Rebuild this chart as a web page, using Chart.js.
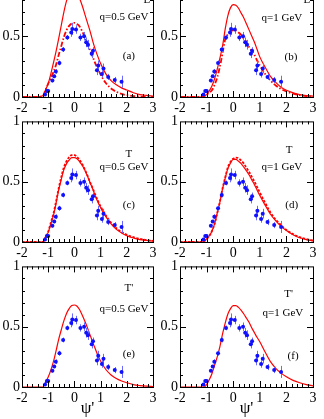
<!DOCTYPE html>
<html>
<head>
<meta charset="utf-8">
<script src="https://cdn.jsdelivr.net/npm/chart.js@4.4.1/dist/chart.umd.min.js"></script>
<style>
	html, body { margin: 0; padding: 0; background: #fff; overflow: hidden; }
	body { width: 324px; height: 419px; position: relative; }
	canvas { position: absolute; }
</style>
</head>
<body>
<canvas id="pa"></canvas>
<canvas id="pb"></canvas>
<canvas id="pc"></canvas>
<canvas id="pd"></canvas>
<canvas id="pe"></canvas>
<canvas id="pf"></canvas>
<script>
// tick labels
var X_TICKS = [-2, -1, 0, 1, 2, 3];
var Y_TICKS = [0, 0.5, 1];

// experimental scaling data (same in every panel)
var dataPsi = [-1.12, -1.05, -1.0, -0.84, -0.77, -0.71, -0.57, -0.43, -0.27, -0.12, -0.08, 0.06, 0.23, 0.37, 0.45, 0.52, 0.66, 0.71, 0.86, 0.91, 1.05, 1.11, 1.29, 1.54, 1.80];
var dataF = [0.02, 0.05, 0.05, 0.135, 0.17, 0.21, 0.28, 0.39, 0.49, 0.53, 0.56, 0.555, 0.49, 0.50, 0.45, 0.43, 0.355, 0.38, 0.22, 0.26, 0.19, 0.235, 0.165, 0.14, 0.125];
var dataErr = [0.01, 0.01, 0.01, 0.015, 0.015, 0.02, 0.02, 0.02, 0.02, 0.035, 0.05, 0.035, 0.03, 0.035, 0.04, 0.04, 0.035, 0.03, 0.04, 0.04, 0.03, 0.04, 0.025, 0.025, 0.05];

// psi' grid for the model curves
var curvePsi = [-2, -1.5, -1.2, -1.1, -1.0, -0.9, -0.8, -0.7, -0.6, -0.5, -0.4, -0.3, -0.2, -0.1, 0, 0.1, 0.2, 0.3, 0.4, 0.5, 0.6, 0.7, 0.8, 0.9, 1.0, 1.2, 1.4, 1.6, 1.8, 2.0, 2.25, 2.5, 2.75, 3.0];

var fL05 = [0, 0, 0.01, 0.06, 0.11, 0.19, 0.28, 0.375, 0.48, 0.59, 0.70, 0.79, 0.85, 0.88, 0.885, 0.86, 0.81, 0.75, 0.68, 0.61, 0.54, 0.46, 0.39, 0.33, 0.275, 0.19, 0.135, 0.10, 0.075, 0.057, 0.035, 0.02, 0.013, 0.008];
var fL05b = [0, 0, 0.01, 0.06, 0.11, 0.155, 0.205, 0.265, 0.345, 0.42, 0.495, 0.55, 0.585, 0.605, 0.61, 0.60, 0.58, 0.54, 0.49, 0.435, 0.385, 0.33, 0.275, 0.23, 0.185, 0.115, 0.07, 0.043, 0.025, 0.015, 0.008, 0.004, 0.002, 0];
var fL1 = [0, 0, 0, 0.005, 0.02, 0.05, 0.09, 0.15, 0.23, 0.32, 0.42, 0.56, 0.67, 0.735, 0.76, 0.755, 0.73, 0.69, 0.65, 0.60, 0.55, 0.50, 0.45, 0.39, 0.33, 0.245, 0.17, 0.12, 0.08, 0.055, 0.035, 0.02, 0.012, 0.008];
var fL1b = [0, 0, 0, 0.005, 0.02, 0.035, 0.055, 0.10, 0.16, 0.25, 0.36, 0.475, 0.515, 0.54, 0.548, 0.545, 0.53, 0.51, 0.48, 0.45, 0.41, 0.38, 0.345, 0.30, 0.26, 0.19, 0.135, 0.095, 0.065, 0.045, 0.027, 0.015, 0.008, 0.004];
var fT05 = [0, 0, 0, 0.04, 0.08, 0.15, 0.22, 0.32, 0.43, 0.52, 0.60, 0.65, 0.68, 0.70, 0.70, 0.69, 0.665, 0.635, 0.595, 0.545, 0.49, 0.44, 0.38, 0.33, 0.285, 0.21, 0.15, 0.105, 0.075, 0.052, 0.033, 0.02, 0.013, 0.008];
var fT05b = [0, 0, 0, 0.04, 0.085, 0.16, 0.235, 0.335, 0.445, 0.54, 0.62, 0.67, 0.705, 0.72, 0.72, 0.705, 0.68, 0.645, 0.60, 0.55, 0.495, 0.445, 0.39, 0.34, 0.295, 0.22, 0.16, 0.115, 0.083, 0.06, 0.04, 0.026, 0.016, 0.01];
var fT1 = [0, 0, 0, 0.005, 0.025, 0.05, 0.09, 0.15, 0.24, 0.33, 0.44, 0.53, 0.61, 0.655, 0.685, 0.685, 0.67, 0.65, 0.62, 0.59, 0.555, 0.515, 0.475, 0.43, 0.385, 0.305, 0.23, 0.175, 0.13, 0.095, 0.06, 0.035, 0.02, 0.01];
var fT1b = [0, 0, 0, 0.005, 0.025, 0.05, 0.09, 0.15, 0.24, 0.335, 0.445, 0.535, 0.62, 0.665, 0.69, 0.70, 0.695, 0.675, 0.65, 0.615, 0.58, 0.54, 0.50, 0.455, 0.41, 0.325, 0.245, 0.185, 0.14, 0.10, 0.065, 0.04, 0.025, 0.012];
var fTp05 = [0, 0, 0, 0.04, 0.083, 0.14, 0.21, 0.30, 0.395, 0.475, 0.55, 0.61, 0.65, 0.675, 0.68, 0.67, 0.64, 0.595, 0.545, 0.49, 0.43, 0.37, 0.315, 0.26, 0.215, 0.145, 0.10, 0.07, 0.05, 0.035, 0.02, 0.012, 0.007, 0.004];
var fTp1 = [0, 0, 0, 0, 0.02, 0.06, 0.11, 0.18, 0.25, 0.335, 0.44, 0.53, 0.605, 0.65, 0.675, 0.675, 0.66, 0.635, 0.605, 0.57, 0.535, 0.49, 0.45, 0.41, 0.375, 0.29, 0.21, 0.155, 0.115, 0.085, 0.055, 0.035, 0.02, 0.01];

var FONT = 'Liberation Serif, Times New Roman, serif';

var DASH_DOT = [5, 2, 1.5, 2];
var DASHED = [2.5, 1.5];

// layout of the six panels
var panels = [
	{ id: 'pa', left: 0, top: -35, width: 162, plot: 122, axis: 20, curves: [[fL05, null], [fL05b, DASH_DOT]],
		texts: [['L', 2.77, 0.8], ['q=0.5 GeV', 1.89, 0.66], ['(a)', 2.08, 0.34]] },
	{ id: 'pb', left: 158, top: -35, width: 164, plot: 122, axis: 20, curves: [[fL1, null], [fL1b, DASH_DOT]],
		texts: [['L', 2.77, 0.8], ['q=1 GeV', 1.83, 0.65], ['(b)', 2.17, 0.33]] },
	{ id: 'pc', left: 0, top: 111, width: 162, plot: 121, axis: 20, curves: [[fT05, null], [fT05b, DASHED]],
		texts: [['T', 2.08, 0.73], ['q=0.5 GeV', 1.89, 0.62], ['(c)', 2.08, 0.31]] },
	{ id: 'pd', left: 158, top: 111, width: 164, plot: 121, axis: 20, curves: [[fT1, null], [fT1b, DASHED]],
		texts: [['T', 2.1, 0.76], ['q=1 GeV', 1.83, 0.62], ['(d)', 2.2, 0.31]] },
	{ id: 'pe', left: 0, top: 256, width: 162, plot: 121, axis: 32, curves: [[fTp05, null]], title: true,
		texts: [['T\'', 2.08, 0.82], ['q=0.5 GeV', 1.89, 0.65], ['(e)', 2.08, 0.27]] },
	{ id: 'pf', left: 158, top: 256, width: 164, plot: 121, axis: 32, curves: [[fTp1, null]], title: true,
		texts: [['T\'', 2.08, 0.77], ['q=1 GeV', 1.87, 0.61], ['(f)', 2.25, 0.26]] }
];

function points(xs, ys) {
	return xs.map(function (x, i) { return { x: x, y: ys[i] }; });
}

// inward ticks on all four sides plus the frame
var frameTicks = {
	id: 'frameTicks',
	afterDraw: function (chart) {
		var ctx = chart.ctx, a = chart.chartArea;
		var xs = chart.scales.x, ys = chart.scales.y;
		ctx.save();
		ctx.strokeStyle = '#000';
		ctx.lineWidth = 1;
		ctx.beginPath();
		var i, p, len;
		for (i = 1; i < 25; i++) {
			p = Math.round(xs.getPixelForValue(-2 + i * 0.2)) + 0.5;
			len = i % 5 === 0 ? 6 : 3;
			ctx.moveTo(p, a.bottom); ctx.lineTo(p, a.bottom - len);
			ctx.moveTo(p, a.top); ctx.lineTo(p, a.top + len);
		}
		for (i = 1; i < 10; i++) {
			p = Math.round(ys.getPixelForValue(i * 0.1)) + 0.5;
			len = i % 5 === 0 ? 6 : 3;
			ctx.moveTo(a.left, p); ctx.lineTo(a.left + len, p);
			ctx.moveTo(a.right, p); ctx.lineTo(a.right - len, p);
		}
		ctx.stroke();
		ctx.strokeRect(a.left + 0.5, a.top + 0.5, a.right - a.left, a.bottom - a.top);
		ctx.restore();
	}
};

// vertical error bars for the data set, drawn just before its points
var errorBars = {
	id: 'errorBars',
	beforeDatasetDraw: function (chart, args) {
		var ds = chart.data.datasets[args.index];
		if (!ds.errors) return;
		var ctx = chart.ctx, xs = chart.scales.x, ys = chart.scales.y;
		ctx.save();
		ctx.strokeStyle = '#6a6aff';
		ctx.lineWidth = 1;
		ctx.beginPath();
		ds.data.forEach(function (pt, i) {
			var px = Math.round(xs.getPixelForValue(pt.x)) + 0.5;
			ctx.moveTo(px, ys.getPixelForValue(pt.y - ds.errors[i]));
			ctx.lineTo(px, ys.getPixelForValue(pt.y + ds.errors[i]));
		});
		ctx.stroke();
		ctx.restore();
	}
};

// panel annotations placed in data coordinates
var panelText = {
	id: 'panelText',
	afterDraw: function (chart, args, opts) {
		var ctx = chart.ctx, xs = chart.scales.x, ys = chart.scales.y;
		ctx.save();
		ctx.fillStyle = '#000';
		ctx.font = '11px ' + FONT;
		ctx.textAlign = 'center';
		ctx.textBaseline = 'middle';
		(opts.items || []).forEach(function (t) {
			ctx.fillText(t[0], xs.getPixelForValue(t[1]), ys.getPixelForValue(t[2]));
		});
		ctx.restore();
	}
};

panels.forEach(function (p) {
	var canvas = document.getElementById(p.id);
	var height = 10 + p.plot + p.axis;
	canvas.width = p.width;
	canvas.height = height;
	canvas.style.left = p.left + 'px';
	canvas.style.top = p.top + 'px';

	var datasets = [{
		type: 'scatter',
		data: points(dataPsi, dataF),
		errors: dataErr,
		pointRadius: 2,
		pointBackgroundColor: '#1010ff',
		pointBorderWidth: 0,
		showLine: false
	}];
	p.curves.forEach(function (c) {
		datasets.push({
			type: 'line',
			data: points(curvePsi, c[0]),
			borderColor: '#ff0000',
			borderWidth: c[1] ? 1.8 : 1.2,
			borderDash: c[1] || [],
			pointRadius: 0,
			cubicInterpolationMode: 'monotone',
			fill: false
		});
	});

	new Chart(canvas, {
		type: 'scatter',
		data: { datasets: datasets },
		options: {
			responsive: false,
			animation: false,
			devicePixelRatio: 1,
			layout: { padding: { top: 10, right: 9, left: 0, bottom: 0 } },
			plugins: {
				legend: { display: false },
				tooltip: { enabled: false },
				panelText: { items: p.texts }
			},
			scales: {
				x: {
					type: 'linear',
					min: -2,
					max: 3,
					afterBuildTicks: function (s) { s.ticks = X_TICKS.map(function (v) { return { value: v }; }); },
					afterFit: function (s) { s.height = p.axis; },
					ticks: {
						color: '#000',
						font: { family: FONT, size: 14 },
						padding: 3,
						autoSkip: false,
						maxRotation: 0,
						callback: function (v) { return String(v); }
					},
					grid: { display: false, drawTicks: false },
					border: { display: false },
					title: {
						display: !!p.title,
						text: 'ψ\'',
						color: '#000',
						font: { family: FONT, size: 17 },
						padding: { top: 0, bottom: 0 }
					}
				},
				y: {
					type: 'linear',
					min: 0,
					max: 1,
					afterBuildTicks: function (s) { s.ticks = Y_TICKS.map(function (v) { return { value: v }; }); },
					afterFit: function (s) { s.width = 22; },
					ticks: {
						color: '#000',
						font: { family: FONT, size: 14 },
						padding: 2,
						callback: function (v) { return String(v); }
					},
					grid: { display: false, drawTicks: false },
					border: { display: false }
				}
			}
		},
		plugins: [frameTicks, errorBars, panelText]
	});
});
</script>
</body>
</html>
